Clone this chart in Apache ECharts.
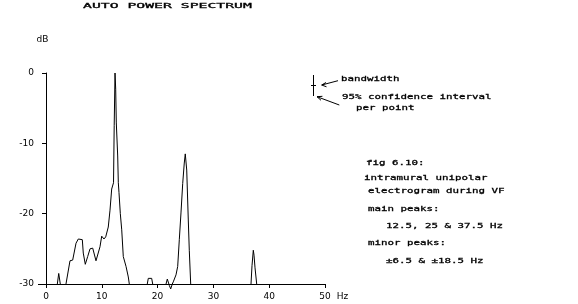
<!DOCTYPE html>
<html><head><meta charset="utf-8">
<script src="https://cdn.jsdelivr.net/npm/echarts@6/dist/echarts.min.js"></script>
<style>html,body{margin:0;padding:0;background:#fff}#c{width:578px;height:304px}</style>
</head><body><div id="c"></div>
<script>
// Spectrum values (Hz, dB); null marks a gap where the spectrum falls below -30 dB
const freqHz = [2.03,2.28,2.56,3.0,
  3.58,4.30,4.78,5.38,5.79,6.51,6.68,7.04,7.47,7.89,8.37,8.96,9.68,9.98,10.39,10.70,11.16,11.47,11.77,12.10,12.22,12.37,12.49,12.60,12.85,12.96,13.08,13.32,13.57,13.85,14.34,14.75,14.93,16.5,
  18.15,18.33,18.94,19.12,20.5,
  21.51,21.74,22.10,22.35,22.63,22.81,23.30,23.60,23.89,24.19,24.50,24.78,24.96,25.22,25.50,25.68,25.93,31.0,
  36.74,36.92,37.15,37.28,37.46,37.76];
const powerDb = [-30,-28.5,-30,null,
  -30,-26.7,-26.6,-24.2,-23.6,-23.7,-25.6,-27.2,-26.1,-25.0,-24.9,-26.7,-24.7,-23.2,-23.6,-23.3,-21.9,-19.5,-16.5,-15.6,-7.5,0,-2.3,-7.1,-11.8,-15.6,-17.0,-20.0,-22.3,-26.1,-27.5,-29.0,-30,null,
  -30,-29.2,-29.2,-30,null,
  -30,-29.3,-30.2,-30.7,-30,-29.7,-28.7,-27.5,-23.7,-19.9,-15.7,-12.8,-11.5,-13.8,-20.9,-25.2,-30,null,
  -30,-27.4,-25.2,-25.9,-27.7,-30];
const xRange = [0, 50, 10];   // min, max, tick step (Hz)
const yRange = [-30, 0, 10];  // min, max, tick step (dB)

const chart = echarts.init(document.getElementById('c'), null, {renderer:'canvas'});
const mono = 'DejaVu Sans Mono';
function txt(text, x, y, sx){
  return {type:'text', x:x, y:y, scaleX:sx, scaleY:0.8,
    style:{text:text, fontFamily:mono, fontSize:9, fill:'#000', stroke:'#000', lineWidth:0.35,
      align:'left', verticalAlign:'middle'}};
}
function pl(points){
  return {type:'polyline', shape:{points:points}, style:{stroke:'#000', lineWidth:1, fill:null}};
}
const axisFont = {color:'#000', fontSize:9, fontFamily:'DejaVu Sans'};
chart.setOption({
  animation:false,
  backgroundColor:'#fff',
  grid:{left:46, top:73, width:279, height:211, outerBoundsMode:'none'},
  xAxis:{type:'value', min:xRange[0], max:xRange[1], interval:xRange[2],
    name:'Hz', nameLocation:'end', nameGap:9,
    nameTextStyle:Object.assign({align:'left', verticalAlign:'top', padding:[8,0,0,0]}, axisFont),
    axisLine:{show:true, onZero:false, lineStyle:{color:'#000', width:1}},
    axisTick:{show:true, length:4, lineStyle:{color:'#000'}},
    axisLabel:Object.assign({margin:8}, axisFont),
    splitLine:{show:false}},
  yAxis:{type:'value', min:yRange[0], max:yRange[1], interval:yRange[2],
    name:'dB', nameLocation:'end', nameGap:29,
    nameTextStyle:Object.assign({align:'center', padding:[0,7,0,0]}, axisFont),
    axisLine:{show:true, lineStyle:{color:'#000', width:1}},
    axisTick:{show:true, length:4, lineStyle:{color:'#000'}},
    axisLabel:Object.assign({margin:12}, axisFont),
    splitLine:{show:false}},
  series:[{type:'line', data:freqHz.map((f,i)=>[f, powerDb[i]]), symbol:'none', showSymbol:false,
    clip:false, connectNulls:false, lineStyle:{color:'#000', width:1}}],
  graphic:[
    txt('AUTO POWER SPECTRUM', 83, 6, 1.64),
    pl([[38,284.5],[46,284.5]]),
    pl([[313.5,75],[313.5,96]]),
    pl([[311,85.5],[316,85.5]]),
    pl([[338,80.7],[321.7,85]]),
    pl([[326,82.5],[321.7,85],[326.5,86.8]]),
    pl([[339.3,105],[317,96.7]]),
    pl([[321,100.3],[317,96.7],[322.4,96.3]]),
    txt('bandwidth', 341, 79.5, 1.2),
    txt('95% confidence interval', 342, 97.5, 1.2),
    txt('per point', 356, 108.5, 1.2),
    txt('fig 6.10:', 366, 163, 1.2),
    txt('intramural unipolar', 364, 178, 1.2),
    txt('electrogram during VF', 368, 191.5, 1.2),
    txt('main peaks:', 368, 209, 1.2),
    txt('12.5, 25 & 37.5 Hz', 386, 226.5, 1.2),
    txt('minor peaks:', 368, 243.5, 1.2),
    txt('±6.5 & ±18.5 Hz', 386, 261, 1.2)
  ]
});
</script></body></html>
